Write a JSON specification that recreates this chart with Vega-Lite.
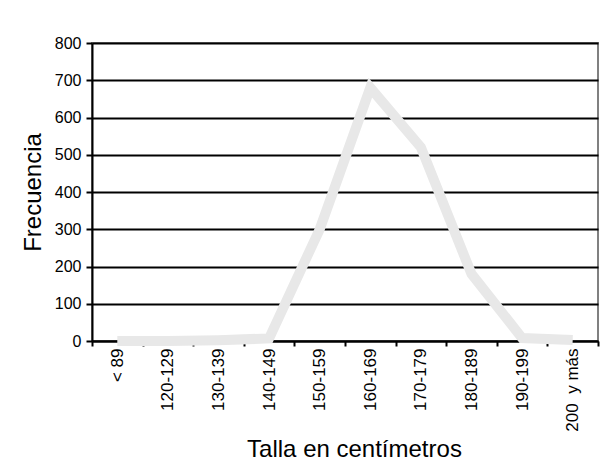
{
  "$schema": "https://vega.github.io/schema/vega-lite/v6.json",
  "autosize": {"type": "none"},
  "width": 506,
  "height": 298,
  "padding": {"left": 92, "top": 43, "right": 4, "bottom": 127},
  "background": "white",
  "config": {
    "font": "Liberation Sans",
    "view": {"stroke": "#808080", "strokeWidth": 2},
    "axis": {
      "labelFont": "Liberation Sans",
      "titleFont": "Liberation Sans",
      "labelColor": "black",
      "titleColor": "black",
      "titleFontWeight": "normal",
      "domainColor": "black",
      "tickColor": "black",
      "gridColor": "black"
    }
  },
  "data": {
    "values": [
      {"talla": "< 89", "frecuencia": 0},
      {"talla": "120-129", "frecuencia": 0},
      {"talla": "130-139", "frecuencia": 2},
      {"talla": "140-149", "frecuencia": 7},
      {"talla": "150-159", "frecuencia": 300},
      {"talla": "160-169", "frecuencia": 680},
      {"talla": "170-179", "frecuencia": 520},
      {"talla": "180-189", "frecuencia": 180},
      {"talla": "190-199", "frecuencia": 8},
      {"talla": "200\u00a0 y más", "frecuencia": 3}
    ]
  },
  "mark": {"type": "line", "color": "#e8e8e8", "strokeWidth": 10, "strokeCap": "butt", "strokeJoin": "miter"},
  "encoding": {
    "x": {
      "field": "talla",
      "type": "nominal",
      "sort": null,
      "scale": {"type": "band", "paddingInner": 0, "paddingOuter": 0},
      "axis": {
        "title": "Talla  en  centímetros",
        "titleFontSize": 24,
        "titleBaseline": "alphabetic",
        "titleY": 115,
        "titleX": 262,
        "labelAngle": -90,
        "labelFontSize": 17,
        "labelPadding": 2,
        "labelOverlap": false,
        "tickBand": "extent",
        "tickSize": 5,
        "tickWidth": 2,
        "domainWidth": 2,
        "grid": false
      }
    },
    "y": {
      "field": "frecuencia",
      "type": "quantitative",
      "scale": {"domain": [0, 800], "nice": false},
      "axis": {
        "title": "Frecuencia",
        "titleFontSize": 24,
        "titlePadding": 9,
        "values": [0, 100, 200, 300, 400, 500, 600, 700, 800],
        "labelFontSize": 16,
        "labelPadding": 5,
        "tickSize": 6,
        "tickWidth": 2,
        "domainWidth": 2,
        "grid": true,
        "gridWidth": 2
      }
    }
  }
}
